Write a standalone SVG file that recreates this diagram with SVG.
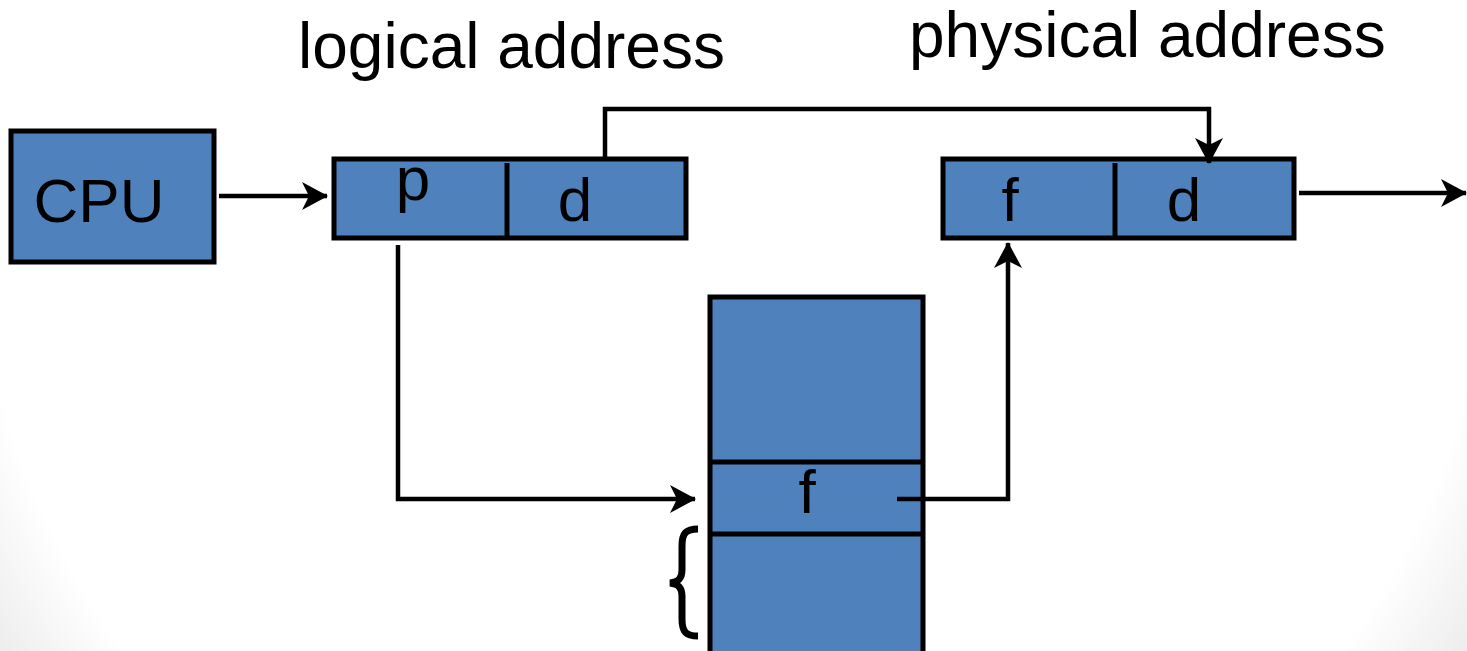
<svg xmlns="http://www.w3.org/2000/svg" width="1467" height="651" viewBox="0 0 1467 651">
  <defs>
    <radialGradient id="bg" gradientUnits="userSpaceOnUse" cx="733" cy="200" r="900">
      <stop offset="0.84" stop-color="#ffffff"/>
      <stop offset="1" stop-color="#e6e6e6"/>
    </radialGradient>
    <marker id="arrow" viewBox="0 0 26 28" refX="25" refY="14" markerWidth="26" markerHeight="28" markerUnits="userSpaceOnUse" orient="auto">
      <path d="M0,0 L26,14 L0,28 L7,14 Z" fill="#000"/>
    </marker>
    <style>
      .box { fill: #4f81bd; stroke: #000; stroke-width: 5; }
      .div { stroke: #000; stroke-width: 5; fill: none; }
      .wire { stroke: #000; stroke-width: 4.5; fill: none; }
      .lbl { font-family: "Liberation Sans", Arial, sans-serif; font-size: 64px; fill: #000; }
      .cell { font-family: "Liberation Sans", Arial, sans-serif; font-size: 62px; fill: #000; text-anchor: middle; }
    </style>
  </defs>

  <rect width="1467" height="651" fill="url(#bg)"/>

  <!-- headings -->
  <text class="lbl" x="298" y="68">logical address</text>
  <text class="lbl" x="909" y="57">physical address</text>

  <!-- CPU -->
  <g id="cpu">
    <rect class="box" x="11" y="131" width="203" height="131"/>
    <text class="cell" x="99" y="222">CPU</text>
  </g>

  <!-- logical address register: page number p, offset d -->
  <g id="logical">
    <rect class="box" x="334" y="159" width="352" height="79"/>
    <line class="div" x1="507" y1="163" x2="507" y2="238"/>
    <text class="cell" x="413" y="200">p</text>
    <text class="cell" x="575" y="221">d</text>
  </g>

  <!-- physical address register: frame f, offset d -->
  <g id="physical">
    <rect class="box" x="943" y="159" width="351" height="79"/>
    <line class="div" x1="1115" y1="163" x2="1115" y2="238"/>
    <text class="cell" x="1010" y="221">f</text>
    <text class="cell" x="1184" y="221">d</text>
  </g>

  <!-- page table -->
  <g id="pagetable">
    <rect class="box" x="710" y="297" width="213" height="358"/>
    <line class="div" x1="712" y1="462" x2="921" y2="462"/>
    <line class="div" x1="712" y1="534" x2="921" y2="534"/>
    <text class="cell" x="807" y="513">f</text>
    <path d="M698,529 C686,529 682,533 682,546 L682,570 C682,578 679,582 670,583 C679,584 682,588 682,596 L682,619 C682,632 686,636 698,636" fill="none" stroke="#000" stroke-width="7"/>
  </g>

  <!-- connectors -->
  <g id="connectors">
    <line class="wire" x1="219" y1="196" x2="327" y2="196" marker-end="url(#arrow)"/>
    <polyline class="wire" points="605,157 605,109 1209,109 1209,163" marker-end="url(#arrow)"/>
    <polyline class="wire" points="398,245 398,499 695,499" marker-end="url(#arrow)"/>
    <polyline class="wire" points="897,499 1008,499 1008,243" marker-end="url(#arrow)"/>
    <line class="wire" x1="1299" y1="193" x2="1466" y2="193" marker-end="url(#arrow)"/>
  </g>
</svg>
